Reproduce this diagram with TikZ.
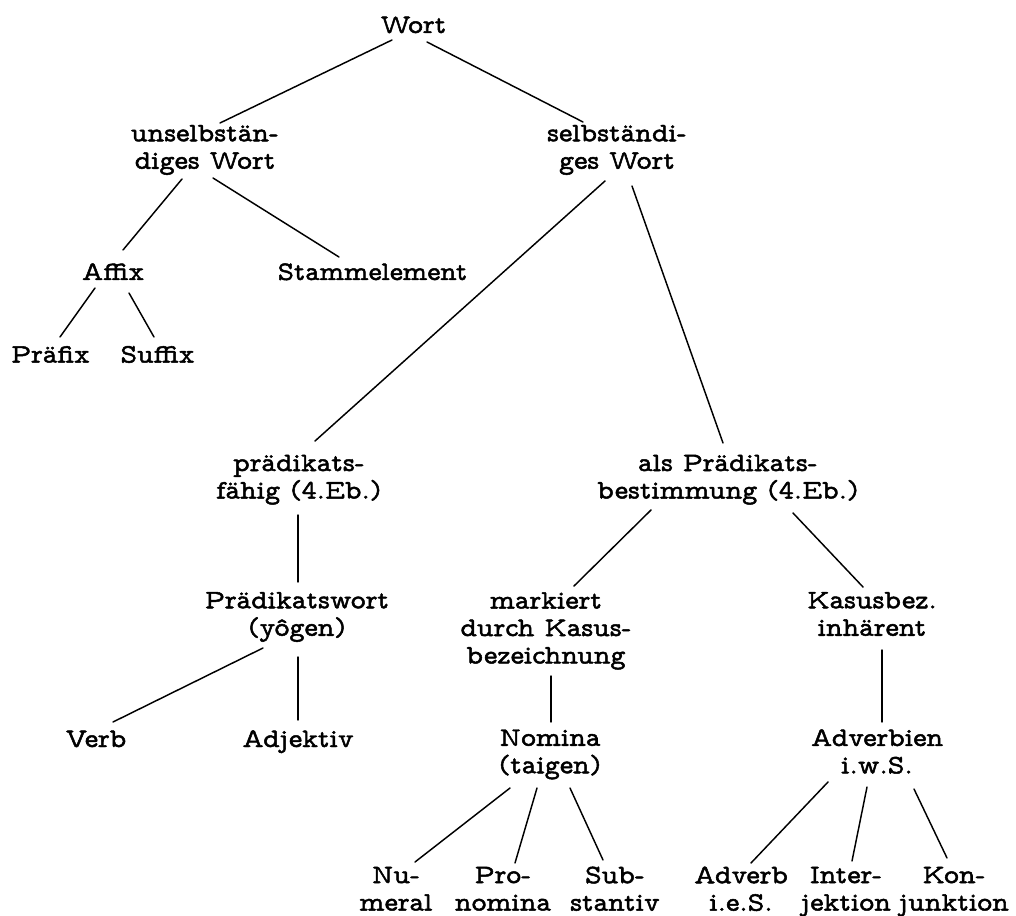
\documentclass[tikz,border=0pt]{standalone}
\usepackage{fontspec}
% proportional typewriter face, slightly emboldened
\newfontfamily\twfont{lmmonoprop10-regular}[Extension=.otf, FakeBold=1.8]
\begin{document}
\begin{tikzpicture}[x=0.75pt,y=-0.75pt,
  lbl/.style={align=center, inner sep=0pt, xscale=1.07,
    font=\twfont\fontsize{20}{20.6}\selectfont,
    execute at begin node=\strut, execute at end node=\strut},
  edge/.style={line width=1.1pt, line cap=round}]
\useasboundingbox (0,0) rectangle (1016,916);

% --- nodes (centres in pixel units, y pointing down)
\node[lbl] (w)  at (413.5,27.5) {Wort};
\node[lbl] (us) at (205,151)    {unselbstän-\\diges Wort};
\node[lbl] (sw) at (617,151)    {selbständi-\\ges Wort};
\node[lbl] (af) at (113,274.5)  {Affix};
\node[lbl,xscale=0.98] (st) at (372.5,274.5){Stammelement};
\node[lbl] (pr) at (50.5,357.1) {Präfix};
\node[lbl] (su) at (157.5,357.1){Suffix};
\node[lbl] (pf) at (299,480.75) {prädikats-\\fähig (4.Eb.)};
\node[lbl] (ap) at (728,480.75) {als Prädikats-\\bestimmung (4.Eb.)};
\node[lbl] (pw) at (297,618)    {Prädikatswort\\(yôgen)};
\node[lbl] (mk) at (546,632)    {markiert\\durch Kasus-\\bezeichnung};
\node[lbl] (kb) at (872,618)    {Kasusbez.\\inhärent};
\node[lbl] (vb) at (96,741.5)   {Verb};
\node[lbl] (aj) at (298,741.5)  {Adjektiv};
\node[lbl] (nm) at (550,755.5)  {Nomina\\(taigen)};
\node[lbl] (av) at (877,755.5)  {Adverbien\\i.w.S.};
\node[lbl] (nu) at (396,892.8)  {Nu-\\meral};
\node[lbl] (pn) at (503,892.8)  {Pro-\\nomina};
\node[lbl] (sb) at (615,892.8)  {Sub-\\stantiv};
\node[lbl] (ad) at (741,892.8)  {Adverb\\i.e.S.};
\node[lbl] (ij) at (846,892.8)  {Inter-\\jektion};
\node[lbl] (kj) at (954,892.8)  {Kon-\\junktion};

% --- tree branches
\draw[edge] ([shift={(-21.5,12.5)}]w.center) -- ([shift={(15,-28)}]us.center);
\draw[edge] ([shift={(13.5,14.5)}]w.center) -- ([shift={(-34,-29)}]sw.center);
\draw[edge] ([shift={(-23,28)}]us.center) -- ([shift={(10,-24.5)}]af.center);
\draw[edge] ([shift={(8,27)}]us.center) -- ([shift={(-33.5,-17.5)}]st.center);
\draw[edge] ([shift={(-18,13.5)}]af.center) -- ([shift={(9.5,-20.1)}]pr.center);
\draw[edge] ([shift={(16,18.5)}]af.center) -- ([shift={(-3.5,-20.1)}]su.center);
\draw[edge] ([shift={(-12,30)}]sw.center) -- ([shift={(16,-39.75)}]pf.center);
\draw[edge] ([shift={(15,35)}]sw.center) -- ([shift={(-5,-37.75)}]ap.center);
\draw[edge] ([shift={(-1,34.25)}]pf.center) -- ([shift={(1,-36)}]pw.center);
\draw[edge] ([shift={(-34,30)}]pw.center) -- ([shift={(17,-19.5)}]vb.center);
\draw[edge] ([shift={(1,39)}]pw.center) -- ([shift={(0,-21.5)}]aj.center);
\draw[edge] ([shift={(-77,29.25)}]ap.center) -- ([shift={(28,-46)}]mk.center);
\draw[edge] ([shift={(65,32.25)}]ap.center) -- ([shift={(-9,-31)}]kb.center);
\draw[edge] ([shift={(5,44)}]mk.center) -- ([shift={(1,-33.5)}]nm.center);
\draw[edge] ([shift={(10,32)}]kb.center) -- ([shift={(5,-33.5)}]av.center);
\draw[edge] ([shift={(-40,32.5)}]nm.center) -- ([shift={(19,-30.8)}]nu.center);
\draw[edge] ([shift={(-13,32.5)}]nm.center) -- ([shift={(12,-29.8)}]pn.center);
\draw[edge] ([shift={(20,32.5)}]nm.center) -- ([shift={(-12,-32.8)}]sb.center);
\draw[edge] ([shift={(-49,26.5)}]av.center) -- ([shift={(10,-29.8)}]ad.center);
\draw[edge] ([shift={(-10,31.5)}]av.center) -- ([shift={(6,-31.8)}]ij.center);
\draw[edge] ([shift={(37,33.5)}]av.center) -- ([shift={(-7,-34.8)}]kj.center);
\end{tikzpicture}
\end{document}
